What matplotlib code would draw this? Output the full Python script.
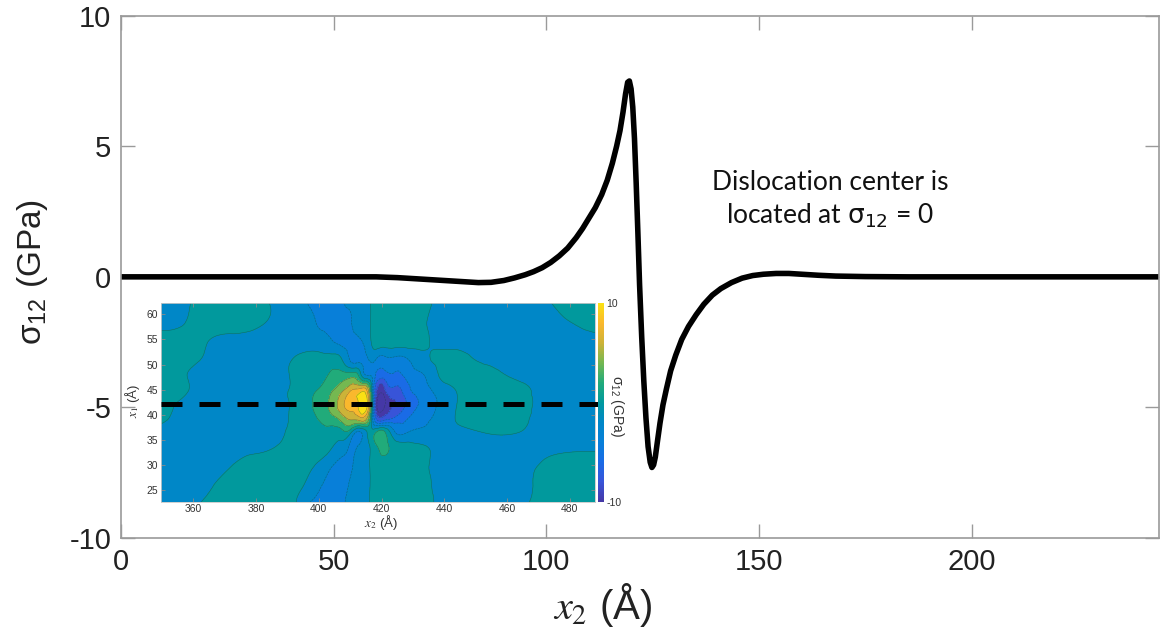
import numpy as np
import matplotlib as mpl
import matplotlib.pyplot as plt
import matplotlib.tri as mtri
from matplotlib.colors import LinearSegmentedColormap, Normalize
from matplotlib.cm import ScalarMappable

mpl.use('Agg')

plt.rcParams['axes.unicode_minus'] = False
plt.rcParams['mathtext.fontset'] = 'stix'

NARROW = ['Liberation Sans Narrow', 'Liberation Sans', 'DejaVu Sans']
ARIAL = ['Liberation Sans', 'DejaVu Sans']

# sigma_12 profile along the dashed cut
x2 = [0, 20, 40, 55, 60, 65, 70, 75, 80, 84, 87, 90, 92.5, 95, 97, 99, 101, 103,
      105, 107, 108.5, 110, 111.5, 113, 114.3, 115.5, 116.5, 117.3, 118, 118.6,
      119.1, 119.5, 119.9, 120.3, 120.7, 121.1, 121.5, 121.9, 122.4, 122.9, 123.4,
      123.9, 124.4, 124.8, 125.2, 125.6, 126.1, 126.7, 127.4, 128.2, 129.2, 130.4,
      131.8, 133.4, 135.2, 137, 139, 141, 143.5, 146, 148.5, 151, 154, 157, 160,
      164, 168, 175, 185, 200, 220, 244]
s12 = [0, 0, 0, 0, 0, -0.03, -0.08, -0.13, -0.18, -0.22, -0.21, -0.14, -0.04,
       0.08, 0.2, 0.35, 0.55, 0.8, 1.1, 1.5, 1.85, 2.25, 2.65, 3.15, 3.7, 4.35,
       5.0, 5.6, 6.3, 7.0, 7.45, 7.5, 7.2, 6.5, 5.3, 3.6, 1.7, -0.3, -2.3, -4.0,
       -5.4, -6.5, -7.1, -7.3, -7.2, -6.9, -6.3, -5.6, -4.9, -4.3, -3.6, -3.0,
       -2.4, -1.9, -1.45, -1.05, -0.7, -0.45, -0.22, -0.05, 0.05, 0.1, 0.13, 0.13,
       0.1, 0.06, 0.03, 0.01, 0, 0, 0, 0]

# inset contour map (sigma_12 in GPa, estimated from the colours)
map_x2 = [349, 357, 364, 371, 378, 385, 392, 398, 403, 407, 410, 413, 415.5, 417,
          418.5, 421, 424, 428, 433, 439, 446, 454, 462, 472, 489]
map_x1 = [22.5, 26, 30, 33.5, 36.5, 39, 42, 45, 48, 51, 54.5, 58.5, 62.5]
map_s12 = [
    [-0.8, -0.5, 0.2, 0.8, 0.9, 0.9, 0.3, -2.3, -2.6, -2.3, -1.5, -1.0, -0.4, 0.6, 1.4, 1.7, 1.7, 1.5, 0.8, -0.4, -0.8, -0.8, -0.5, 0.5, 0.9],
    [-0.8, -0.6, -0.3, 0.6, 0.9, 1.0, 0.8, -1.0, -2.4, -2.5, -1.8, -1.0, -0.5, 0.5, 1.3, 1.6, 1.6, 1.4, 0.6, -0.5, -0.8, -0.8, -0.6, 0.4, 0.9],
    [-0.8, -0.7, -0.6, -0.2, 0.6, 1.0, 1.0, 0.2, -1.5, -2.4, -2.3, -1.2, -0.4, 0.5, 1.2, 1.5, 1.4, 1.2, 0.4, -0.5, -0.8, -0.8, -0.7, 0.2, 0.8],
    [-0.6, -0.7, -0.8, -0.7, -0.4, -0.1, 0.5, 0.8, 0.6, -1.0, -2.2, -1.6, -0.5, 0.6, 1.8, 2.4, 1.2, 0.6, 0.2, -0.5, -0.8, -0.8, -0.7, -0.4, -0.3],
    [-0.5, -0.7, -0.8, -0.8, -0.7, -0.5, 0.3, 0.9, 1.3, 1.2, 0.6, -2.3, 0.2, 0.8, 2.3, 2.2, -1.6, -2.1, -1.5, -0.7, -0.3, 0.1, 0.1, -0.6, -0.8],
    [0.3, -0.5, -0.8, -0.8, -0.8, -0.6, 0.3, 1.5, 2.8, 4.3, 6.0, 6.5, 5.0, -1.0, -6.0, -6.2, -5.2, -4.0, -2.5, -1.0, 0.3, 0.8, 0.6, -0.6, -0.8],
    [0.5, -0.3, -0.8, -0.8, -0.8, -0.6, 0.3, 2.0, 4.0, 7.0, 9.0, 10.8, 9.8, 0.0, -10.0, -10.2, -8.0, -5.8, -3.5, -1.5, 0.4, 0.9, 0.7, -0.5, -0.8],
    [0.8, 0.2, -0.6, -0.8, -0.8, -0.6, 0.3, 1.6, 3.2, 5.2, 7.5, 8.6, 7.0, -1.0, -8.0, -8.2, -6.5, -4.8, -2.8, -1.0, 0.4, 0.9, 0.7, -0.6, -0.8],
    [0.5, 0.1, -0.6, -0.8, -0.8, -0.6, 0.2, 0.9, 2.0, 2.8, 2.8, 1.0, -2.3, -2.5, -4.5, -4.8, -4.2, -3.4, -2.1, 0.4, 0.8, 0.5, -0.3, -0.8, -0.7],
    [0.8, 0.6, -0.2, -0.7, -0.9, -0.8, 0.1, 0.8, 0.9, 0.3, -2.2, -2.6, -2.2, -1.5, -2.3, -2.6, -2.5, -2.2, -0.6, 0.6, 0.5, -0.3, -0.8, -0.8, -0.5],
    [0.9, 0.9, 0.1, -0.5, -0.8, -1.0, -1.0, -1.0, -1.6, -2.4, -2.6, -2.3, -1.0, 0.3, 1.0, 1.0, 1.0, 0.9, 0.4, -0.4, -0.7, -0.8, -0.8, -0.7, -0.3],
    [-0.5, -0.1, 0.9, 0.9, 0.8, -0.3, -1.0, -1.8, -2.5, -2.6, -2.2, -1.0, -0.6, 0.4, 1.4, 1.7, 1.6, 1.2, 0.3, -0.6, -0.8, -0.8, -0.7, -0.4, 0.5],
    [-0.6, -0.3, 0.8, 0.9, 0.8, -0.2, -1.0, -2.4, -2.6, -2.3, -1.2, -0.8, -0.5, 0.4, 1.5, 1.8, 1.8, 1.6, 0.7, -0.5, -0.8, -0.8, -0.6, -0.1, 0.8],
]
cut_x1 = 42.1

# parula-like colour map
parula = LinearSegmentedColormap.from_list('parula_like', [
    (0.0, (0.27, 0.22, 0.65)),
    (0.1, (0.22, 0.33, 0.85)),
    (0.2, (0.10, 0.42, 0.90)),
    (0.3, (0.03, 0.50, 0.85)),
    (0.4, (0.00, 0.53, 0.78)),
    (0.5, (0.00, 0.60, 0.62)),
    (0.6, (0.13, 0.67, 0.48)),
    (0.7, (0.45, 0.72, 0.32)),
    (0.8, (0.80, 0.70, 0.22)),
    (0.9, (0.98, 0.72, 0.18)),
    (1.0, (0.98, 0.88, 0.08)),
])
norm = Normalize(-10, 10)

W, H = 1161, 640
fig = plt.figure(figsize=(W / 100, H / 100), dpi=100)

# ---- main profile ----
ax = fig.add_axes([121 / W, 1 - 538 / H, (1159 - 121) / W, (538 - 15.7) / H])
ax.plot(x2, s12, color='black', lw=4, solid_joinstyle='round')
ax.set_xlim(0, 244)
ax.set_ylim(-10, 10)
ax.set_xticks([0, 50, 100, 150, 200])
ax.set_yticks([-10, -5, 0, 5, 10])
ax.tick_params(direction='in', length=10, width=1, color='#9a9a9a',
               top=True, right=True, labelsize=21, labelcolor='#222222', pad=7)
for sp in ax.spines.values():
    sp.set_color('#9a9a9a')
    sp.set_linewidth(1.2)
for lab in ax.get_xticklabels() + ax.get_yticklabels():
    lab.set_family(NARROW)

fig.text(33 / W, 1 - 272 / H, r'$\mathregular{\sigma_{12}}$ (GPa)', rotation=90,
         fontsize=24, family=ARIAL, color='#222222', ha='center', va='center')
fig.text(603 / W, 1 - 605 / H, r'$x_2$ (Å)', fontsize=29, family=NARROW,
         color='#222222', ha='center', va='center')

ax.text(0.683, 0.647, 'Dislocation center is\nlocated at $\\mathrm{\\sigma_{12}}$ = 0',
        transform=ax.transAxes, fontsize=19, family=['Lato', 'DejaVu Sans'],
        math_fontfamily='dejavusans', ha='center', va='center',
        multialignment='center', linespacing=1.3, color='#111111')

# ---- inset map ----
axi = fig.add_axes([160.7 / W, 1 - 501.7 / H, (595 - 160.7) / W, (501.7 - 303.3) / H])
levels = np.arange(-12, 13, 2)
band_colors = [parula(norm(min(10, max(-10, lv)))) for lv in levels[:-1]]

nx, ny = len(map_x2), len(map_x1)
gx, gy = np.meshgrid(map_x2, map_x1)
cells = []
for j in range(ny - 1):
    for i in range(nx - 1):
        a = j * nx + i
        cells += [[a, a + 1, a + nx + 1], [a, a + nx + 1, a + nx]]
tri = mtri.Triangulation(gx.ravel(), gy.ravel(), cells)
zz = np.ravel(map_s12)
interp = mtri.CubicTriInterpolator(tri, zz, kind='min_E')
tri_f, z_f = mtri.UniformTriRefiner(tri).refine_field(zz, triinterpolator=interp, subdiv=4)
z_f = np.clip(z_f, -11.9, 11.9)
axi.tricontourf(tri_f, z_f, levels=levels, colors=band_colors)
axi.tricontour(tri_f, z_f, levels=levels[1:-1], colors='#1c3a44',
               linewidths=0.4, alpha=0.5)
axi.plot([349.6, 491], [cut_x1, cut_x1], color='black', lw=3.6,
         dashes=(4.2, 3.4), clip_on=False, zorder=5)
axi.set_xlim(349.6, 488)
axi.set_ylim(22.7, 62.2)
axi.set_xticks(range(360, 481, 20))
axi.set_yticks(range(25, 61, 5))
axi.tick_params(direction='in', length=3, width=0.6, color='#8a8a8a',
                top=True, right=True, labelsize=7.5, labelcolor='#333333', pad=2)
for lab in axi.get_xticklabels() + axi.get_yticklabels():
    lab.set_family(ARIAL)
for sp in axi.spines.values():
    sp.set_color('#c8c8c8')
    sp.set_linewidth(0.6)

fig.text(132 / W, 1 - 401 / H, r'$x_1$ (Å)', rotation=90, fontsize=9.5,
         family=ARIAL, color='#333333', ha='center', va='center')
fig.text(381 / W, 1 - 522 / H, r'$x_2$ (Å)', fontsize=9.5,
         family=ARIAL, color='#333333', ha='center', va='center')

cax = fig.add_axes([597.5 / W, 1 - 501.7 / H, 6 / W, (501.7 - 303.3) / H])
cb = fig.colorbar(ScalarMappable(norm=norm, cmap=parula), cax=cax, ticks=[-10, 10])
cb.outline.set_visible(False)
cax.tick_params(length=0, labelsize=7.5, labelcolor='#333333', pad=2)
for lab in cax.get_yticklabels():
    lab.set_family(ARIAL)
fig.text(617 / W, 1 - 406 / H, r'$\mathregular{\sigma_{12}}$ (GPa)', rotation=-90,
         fontsize=10, family=ARIAL, color='#333333', ha='center', va='center')

fig.savefig('out.png', dpi=100)
